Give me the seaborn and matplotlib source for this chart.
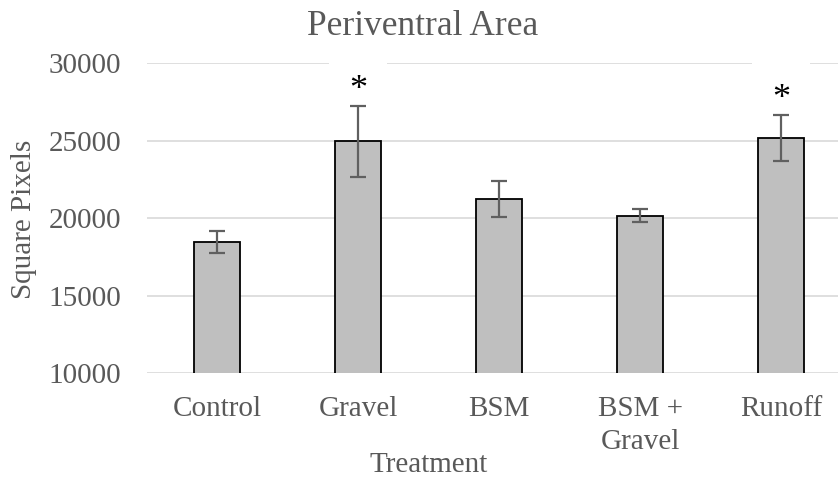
import matplotlib
matplotlib.use("Agg")
import matplotlib.pyplot as plt
import seaborn as sns
import pandas as pd

treatments = ["Control", "Gravel", "BSM", "BSM +\nGravel", "Runoff"]
mean_area = [18460, 24950, 21245, 20150, 25160]
std_err = [730, 2290, 1160, 410, 1460]
significant = [False, True, False, False, True]

df = pd.DataFrame({"Treatment": treatments, "Area": mean_area})

sns.set_theme(style="white")
plt.rcParams["font.family"] = ["Liberation Serif", "DejaVu Serif"]

text_grey = "#595959"
fig = plt.figure(figsize=(8.38, 4.8), dpi=100)
ax = fig.add_axes([146.5 / 838, 1 - 373.3 / 480, 1 - 146.5 / 838, (373.3 - 63) / 480])

sns.barplot(data=df, x="Treatment", y="Area", color="#BFBFBF", saturation=1,
            edgecolor="black", linewidth=1.3, width=0.32, errorbar=None, ax=ax)
for p in ax.patches:
    p.set_zorder(2)

ax.errorbar(range(len(treatments)), mean_area, yerr=std_err, fmt="none",
            ecolor="#606060", elinewidth=1.6, capsize=6, capthick=1.6, zorder=3)

for i, (m, e, sig) in enumerate(zip(mean_area, std_err, significant)):
    if sig:
        ax.annotate("*", xy=(i, m + e), xytext=(0, 5), textcoords="offset points",
                    ha="center", va="baseline", fontsize=26, color="black",
                    bbox=dict(facecolor="white", edgecolor="none", pad=14.5),
                    zorder=1.5, annotation_clip=False)

ax.set_ylim(10000, 30000)
ax.set_xlim(-0.5, -0.5 + 691.5 / 141)
ax.set_yticks([10000, 15000, 20000, 25000, 30000])
ax.yaxis.grid(True, color="#D9D9D9", linewidth=1.2)
ax.set_axisbelow(True)
for s in ax.spines.values():
    s.set_visible(False)
ax.tick_params(axis="both", length=0, labelsize=21, labelcolor=text_grey)
ax.tick_params(axis="y", pad=18)
ax.tick_params(axis="x", pad=16.5)
for lbl in ax.get_xticklabels():
    lbl.set_linespacing(1.32)
ax.set_xlabel("")
ax.set_ylabel("")

fig.text(423 / 838, 1 - 35 / 480, "Periventral Area", ha="center", va="baseline",
         fontsize=25.5, color=text_grey)
fig.text(428.5 / 838, 1 - 471.7 / 480, "Treatment", ha="center", va="baseline",
         fontsize=21, color=text_grey)
fig.text(24 / 838, 1 - 219 / 480, "Square Pixels", ha="center", va="center",
         rotation=90, fontsize=21, color=text_grey)

fig.savefig("out.png", dpi=100, facecolor="white")
